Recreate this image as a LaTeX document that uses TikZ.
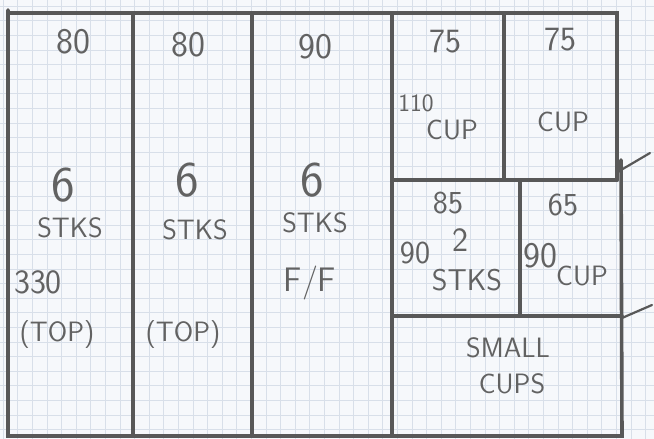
\documentclass[tikz,border=0pt]{standalone}
\usetikzlibrary{positioning}
\definecolor{paper}{HTML}{F6F8FB}
\definecolor{gridblue}{HTML}{D8DFE9}
\definecolor{wallgray}{HTML}{585858}
\definecolor{pencil}{HTML}{626262}

\begin{document}
\begin{tikzpicture}[
  x=1pt, y=-1pt,
  wall/.style={draw=wallgray, line width=3.6pt, line cap=round},
  tick/.style={draw=wallgray, line width=2.2pt, line cap=round},
  gridline/.style={draw=gridblue, line width=0.6pt},
  lbl/.style={text=pencil, inner sep=0pt, font=\sffamily\fontsize{#1}{#1}\selectfont},
  lbl/.default=28
]
\fill[paper] (0,0) rectangle (654,439);
\useasboundingbox (0,0) rectangle (654,439);
% squared paper
\foreach \gx in {3,17.6,...,654} \draw[gridline] (\gx,0) -- (\gx,439);
\foreach \gy in {6,20.6,...,439} \draw[gridline] (0,\gy) -- (654,\gy);

% outline and partitions
\draw[wall] (8,13) -- (617,13) -- (617,180);
\draw[wall] (8,10) -- (8,436) -- (622,436) -- (621,160);
\draw[wall] (133,13) -- (133,436);
\draw[wall] (252,13) -- (252,436);
\draw[wall] (392,13) -- (392,436);
\draw[wall] (504,13) -- (504,180);
\draw[wall] (392,180) -- (617,180);
\draw[wall] (520,180) -- (520,316);
\draw[wall] (392,316) -- (622,316);
\draw[tick] (621,170) -- (650,153);
\draw[tick] (622,318) -- (652,305);

% left columns
\node[lbl=36] (w1) at (73,42) {80};
\node[lbl=36] (w2) at (188,45) {80};
\node[lbl=36] (w3) at (315,47) {90};
\node[lbl=50] (c1) at (63,185) {6};
\node[lbl=50] (c2) at (187,180) {6};
\node[lbl=50] (c3) at (312,180) {6};
\node[lbl] (s1) at (70,228) {STKS};
\node[lbl] (s2) at (195,230) {STKS};
\node[lbl] (s3) at (315,223) {STKS};
\node[lbl=34] (h1) at (38,282) {330};
\node[lbl] (t1) at (57,335) {(TOP)};
\node[lbl] (t2) at (183,335) {(TOP)};
\node[lbl=34] (ff) at (310,283) {F/F};

% upper right
\node[lbl=34] (w4) at (445,42) {75};
\node[lbl=34] (w5) at (560,40) {75};
\node[lbl=25] (h4) at (416,103) {110};
\node[lbl] (u4) at (452,130) {CUP};
\node[lbl] (u5) at (563,122) {CUP};

% middle right
\node[lbl=32] (w6) at (448,203) {85};
\node[lbl=34] (c6) at (460,240) {2};
\node[lbl=32] (h6) at (415,253) {90};
\node[lbl=30] (s6) at (467,280) {STKS};
\node[lbl=32] (w7) at (563,205) {65};
\node[lbl=36] (h7) at (540,256) {90};
\node[lbl] (u7) at (582,276) {CUP};

% bottom right
\node[lbl] (sm) at (508,348) {SMALL};
\node[lbl] (cp) at (512,384) {CUPS};
\end{tikzpicture}
\end{document}
